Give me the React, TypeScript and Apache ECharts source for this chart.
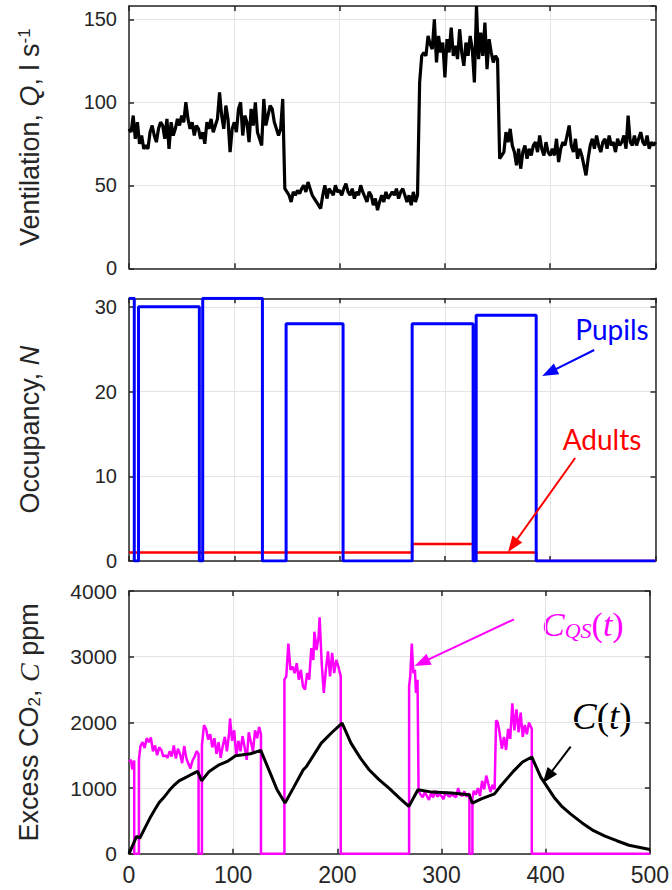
import React, { useEffect, useRef } from "react";
import * as echarts from "echarts";

// ---------- DATA ----------
const xTicks = [0, 100, 200, 300, 400, 500];

// Ventilation Q (l/s), sampled every 2 time units, four segments
const qSeg1Start = 0;
const qSeg1 = [84, 82, 92, 78, 88, 75, 80, 72, 74, 72,
  82, 86, 80, 76, 84, 88, 86, 78, 90, 72,
  88, 80, 84, 90, 86, 92, 88, 100, 90, 84,
  88, 80, 86, 84, 78, 82, 75, 88, 84, 90,
  82, 86, 90, 106, 92, 84, 98, 90, 70, 84,
  88, 82, 96, 100, 80, 92, 88, 76, 96, 86,
  100, 82, 78, 74, 102, 86, 92, 98, 96, 88,
  84, 80, 84, 102];
const qSeg2Start = 148;
const qSeg2 = [48, 46, 44, 40, 46, 44, 47, 45, 48, 50,
  46, 52, 48, 44, 42, 40, 38, 36, 44, 50,
  42, 48, 46, 44, 50, 46, 47, 44, 48, 51,
  46, 44, 48, 42, 46, 44, 50, 46, 43, 40,
  46, 44, 38, 42, 35, 40, 44, 40, 46, 42,
  44, 46, 44, 48, 42, 46, 48, 44, 40, 44,
  38, 46, 40, 44, 112];
const qSeg3Start = 278;
const qSeg3 = [128, 130, 128, 140, 135, 132, 150, 124, 140, 130,
  136, 115, 138, 130, 145, 128, 134, 126, 144, 130,
  122, 136, 128, 140, 132, 112, 158, 126, 142, 128,
  148, 120, 138, 130, 124, 128, 126];
const qSeg4Start = 352;
const qSeg4 = [66, 68, 70, 82, 76, 84, 74, 70, 62, 72,
  60, 70, 74, 66, 72, 68, 74, 76, 70, 80,
  72, 68, 76, 70, 68, 72, 68, 78, 64, 72,
  76, 74, 80, 86, 74, 70, 78, 66, 72, 68,
  62, 56, 66, 74, 78, 72, 80, 74, 70, 76,
  78, 72, 80, 74, 76, 70, 78, 74, 76, 80,
  72, 92, 76, 74, 80, 74, 78, 82, 76, 74,
  80, 72, 76, 74, 76];
const qStep = 2;

// Occupancy
const pupilsT = [0, 5, 5, 9, 9, 66.8, 66.8, 70, 70, 126.7, 126.7, 149.2, 149.2, 203.3, 203.3, 268.9, 268.9, 326.8, 326.8, 329.7, 329.7, 386.7, 386.7, 500];
const pupilsN = [31, 31, 0, 0, 30, 30, 0, 0, 31, 31, 0, 0, 28, 28, 0, 0, 28, 28, 0, 0, 29, 29, 0, 0];
const adultsT = [0, 268.9, 268.9, 326.8, 326.8, 386.7, 386.7, 500];
const adultsN = [1, 1, 2, 2, 1, 1, 0, 0];

// Steady-state CO2, C_QS(t)
const cqsSegA: [number, number][] = [[0, 1400], [2, 1430], [3, 1290], [4, 1310], [5, 1420], [5, 0], [9.5, 0]];
const cqsSegB: [number, number][] = [[9.5, 1430], [11, 1640], [13, 1700], [15, 1610], [17, 1760], [19, 1700], [21, 1770], [23, 1560], [25, 1650], [27, 1500], [29, 1620], [31, 1580], [33, 1480], [35, 1500], [37, 1460], [39, 1560], [41, 1480], [43, 1650], [45, 1450], [47, 1600], [49, 1520], [51, 1380], [53, 1640], [55, 1460], [57, 1370], [59, 1300], [61, 1420], [63, 1480], [65, 1560], [66.8, 1520], [66.8, 0], [70, 0]];
const cqsSegC: [number, number][] = [[70, 1650], [72, 1960], [74, 1900], [76, 1740], [78, 1820], [80, 1620], [82, 1760], [84, 1520], [86, 1700], [88, 1460], [90, 1640], [92, 1780], [94, 1560], [96, 1820], [97, 2060], [99, 1720], [101, 1880], [103, 1480], [105, 1720], [107, 1560], [109, 1790], [111, 1620], [113, 1430], [115, 1850], [117, 1700], [119, 1560], [121, 1880], [123, 1760], [125, 1930], [126.7, 1820], [126.7, 0], [149.2, 0]];
const cqsSegD: [number, number][] = [[149.2, 2650], [151, 2700], [153, 3200], [155, 2800], [157, 2850], [159, 2750], [161, 2900], [163, 2650], [165, 2800], [167, 2550], [169, 2500], [171, 2750], [173, 2650], [175, 3130], [177, 2950], [178, 3380], [180, 3100], [182, 3300], [183, 3600], [185, 2900], [187, 2450], [189, 2800], [191, 3080], [193, 2700], [195, 3060], [197, 2750], [199, 2950], [201, 2850], [203.3, 2700], [203.3, 0], [268.9, 0]];
const cqsSegE: [number, number][] = [[268.9, 2550], [270, 2700], [271.5, 3200], [273, 2750], [274.5, 2800], [275.5, 2450], [277, 2650], [278, 950], [280, 900], [282, 860], [284, 940], [286, 880], [288, 820], [290, 920], [292, 860], [294, 960], [296, 870], [298, 900], [300, 880], [302, 830], [304, 940], [306, 890], [308, 870], [310, 910], [312, 880], [314, 860], [316, 1000], [318, 900], [320, 880], [322, 950], [324, 870], [326.8, 920], [326.8, 0], [329.7, 0]];
const cqsSegF: [number, number][] = [[329.7, 850], [331, 960], [333, 900], [335, 1000], [337, 880], [339, 1110], [341, 980], [343, 1190], [345, 1060], [347, 940], [349, 1050], [351, 980], [352.4, 2030], [354, 2000], [356, 1820], [358, 1600], [360, 1780], [362, 1580], [364, 1900], [366, 1750], [368, 2290], [370, 1880], [372, 2200], [374, 1850], [376, 2150], [378, 1780], [380, 1960], [382, 1820], [384, 2000], [386.7, 1900], [386.7, 0], [500, 0]];

// Actual CO2, C(t)
const cTimes = [0, 7.3, 10.4, 15.2, 20, 24.7, 29, 34.2, 39, 43.7, 48, 53.2, 59, 65.9, 69.7, 77, 86.5, 94.4, 102.3, 116.6, 126.5, 135.6, 142, 149.8, 157.7, 167.3, 170.4, 184.6, 195, 204.6, 213.1, 222, 230.5, 240, 249.6, 259, 268.6, 277.4, 290.7, 309.7, 326.5, 329.7, 338.2, 350.9, 357.2, 369.9, 377.8, 386.7, 395.3, 408, 415, 423.8, 435, 446, 457, 468.2, 480, 500];
const cValues = [0, 264, 240, 390, 540, 670, 780, 873, 970, 1050, 1110, 1152, 1200, 1254, 1112, 1254, 1355, 1406, 1492, 1523, 1574, 1228, 980, 772, 1000, 1279, 1330, 1685, 1850, 1990, 1685, 1460, 1279, 1130, 1000, 860, 721, 975, 939, 924, 898, 770, 837, 913, 1040, 1270, 1398, 1474, 1168, 862, 730, 607, 470, 352, 270, 199, 130, 65];

// Annotation arrows (data coordinates: [from], [to])
const pupilsArrow = [[441.8, 24.9], [399.2, 22.25]];
const adultsArrow = [[423.7, 12.15], [364.4, 1.83]];
const cqsArrow = [[369.6, 3569], [281.1, 2910]];
const cArrow = [[424, 1630], [401.8, 1169]];

// ---------- STYLE ----------
const FONT = "'Liberation Sans', Arial, Helvetica, sans-serif";
const AX = "#262626";
const GRIDC = "#e4e4e4";

function seg(start: number, vals: number[]) {
  return vals.map((v, i) => [start + i * qStep, v]);
}

export default function App() {
  const ref = useRef<HTMLDivElement>(null);
  useEffect(() => {
    if (!ref.current) return;
    const chart = echarts.init(ref.current, null, { renderer: "svg" });

    const grids = [
      { left: 129, top: 6, width: 526.5, height: 262.3 },
      { left: 129, top: 298.3, width: 526.5, height: 262.7 },
      { left: 129, top: 591, width: 526.5, height: 262.8 },
    ];
    const yCfg = [
      { min: 0, max: 158, interval: 50, size: 20, showMax: false },
      { min: 0, max: 31, interval: 10, size: 20, showMax: false },
      { min: 0, max: 4000, interval: 1000, size: 21, showMax: true },
    ];
    const names = [
      "{n|Ventilation, }{i|Q}{n|, l s}{sup|-1}",
      "{n|Occupancy, }{i|N}",
      "{n|Excess CO}{sub|2}{n|, }{ci|C}{n| ppm}",
    ];
    const nameRich = {
      n: { fontSize: 27, fontFamily: FONT, color: AX },
      i: { fontSize: 27, fontFamily: FONT, fontStyle: "italic", color: AX },
      ci: { fontSize: 28, fontFamily: "'Liberation Serif', serif", fontStyle: "italic", color: AX },
      sup: { fontSize: 17, fontFamily: FONT, color: AX, verticalAlign: "top" },
      sub: { fontSize: 17, fontFamily: FONT, color: AX, verticalAlign: "bottom" },
    };
    const lineAx = { show: true, onZero: false, lineStyle: { color: AX, width: 1.5 } };
    const tickAx = { show: true, inside: true, length: 5, lineStyle: { color: AX, width: 1.5 } };
    const plain = (v: number) => String(v);

    const xAxis: any[] = [];
    const yAxis: any[] = [];
    grids.forEach((_, g) => {
      xAxis.push({
        type: "value", gridIndex: g, position: "bottom", min: xTicks[0], max: xTicks[xTicks.length - 1], interval: 100,
        axisLine: lineAx, axisTick: tickAx,
        axisLabel: { show: g === 2, fontSize: 23, color: AX, fontFamily: FONT, margin: 10, formatter: plain },
        splitLine: { show: true, lineStyle: { color: GRIDC, width: 1 } },
      });
      xAxis.push({
        type: "value", gridIndex: g, position: "top", min: 0, max: 500, interval: 100,
        axisLine: lineAx, axisTick: tickAx, axisLabel: { show: false }, splitLine: { show: false },
      });
      const c = yCfg[g];
      yAxis.push({
        type: "value", gridIndex: g, position: "left", min: c.min, max: c.max, interval: c.interval,
        axisLine: lineAx, axisTick: tickAx,
        axisLabel: { fontSize: c.size, color: AX, fontFamily: FONT, margin: 12, showMaxLabel: c.showMax, formatter: plain },
        splitLine: { show: true, lineStyle: { color: GRIDC, width: 1 } },
        name: names[g], nameLocation: "middle", nameRotate: 90, nameGap: 86,
        nameTextStyle: { fontSize: 27, fontFamily: FONT, color: AX, rich: nameRich },
      });
      yAxis.push({
        type: "value", gridIndex: g, position: "right", min: c.min, max: c.max, interval: c.interval,
        axisLine: lineAx, axisTick: tickAx, axisLabel: { show: false }, splitLine: { show: false },
      });
    });

    const arrow = (pts: number[][], color: string) => ({
      silent: true,
      symbol: ["none", "triangle"],
      symbolSize: [12, 16],
      label: { show: false },
      lineStyle: { color, width: 2, type: "solid" },
      emphasis: { disabled: true },
      data: [[{ coord: pts[0] }, { coord: pts[1] }]],
    });

    const qData = [
      ...seg(qSeg1Start, qSeg1), ...seg(qSeg2Start, qSeg2),
      ...seg(qSeg3Start, qSeg3), ...seg(qSeg4Start, qSeg4),
    ];
    const pupils = pupilsT.map((t, i) => [t, pupilsN[i]]);
    const adults = adultsT.map((t, i) => [t, adultsN[i]]);
    const cqs = [...cqsSegA, ...cqsSegB, ...cqsSegC, ...cqsSegD, ...cqsSegE, ...cqsSegF];
    const cData = cTimes.map((t, i) => [t, cValues[i]]);

    chart.setOption({
      animation: false,
      backgroundColor: "#ffffff",
      grid: grids,
      xAxis,
      yAxis,
      series: [
        { type: "line", xAxisIndex: 0, yAxisIndex: 0, data: qData, showSymbol: false, lineStyle: { color: "#000", width: 3.2 }, z: 3 },
        { type: "line", xAxisIndex: 2, yAxisIndex: 2, data: adults, showSymbol: false, lineStyle: { color: "#ff0000", width: 2.5 }, z: 3, markLine: arrow(adultsArrow, "#ff0000") },
        { type: "line", xAxisIndex: 2, yAxisIndex: 2, data: pupils, showSymbol: false, lineStyle: { color: "#0000ff", width: 3 }, z: 4, markLine: arrow(pupilsArrow, "#0000ff") },
        { type: "line", xAxisIndex: 4, yAxisIndex: 4, data: cqs, showSymbol: false, lineStyle: { color: "#ff00ff", width: 2.5 }, z: 3, markLine: arrow(cqsArrow, "#ff00ff") },
        { type: "line", xAxisIndex: 4, yAxisIndex: 4, data: cData, showSymbol: false, lineStyle: { color: "#000", width: 3 }, z: 4, markLine: arrow(cArrow, "#000") },
      ],
      graphic: [
        { type: "text", x: 612, y: 329, style: { text: "Pupils", fill: "#0000ff", font: "28px Lato, 'Open Sans', sans-serif", textAlign: "center", textVerticalAlign: "middle" } },
        { type: "text", x: 602, y: 439, style: { text: "Adults", fill: "#ff0000", font: "28px Lato, 'Open Sans', sans-serif", textAlign: "center", textVerticalAlign: "middle" } },
        {
          type: "text", x: 542, y: 624,
          style: {
            text: "{c|C}{s|QS}{p|(}{c|t}{p|)}", textVerticalAlign: "middle", fill: "#ff00ff",
            rich: {
              c: { fontSize: 34, fontFamily: "'Liberation Serif', serif", fontStyle: "italic", fill: "#ff00ff" },
              s: { fontSize: 22, fontFamily: "'Liberation Serif', serif", fontStyle: "italic", fill: "#ff00ff", verticalAlign: "bottom" },
              p: { fontSize: 34, fontFamily: "'Liberation Serif', serif", fill: "#ff00ff" },
            },
          },
        },
        {
          type: "text", x: 572, y: 716,
          style: {
            text: "{c|C}{p|(}{c|t}{p|)}", textVerticalAlign: "middle", fill: "#000",
            rich: {
              c: { fontSize: 37, fontFamily: "'Liberation Serif', serif", fontStyle: "italic", fill: "#000" },
              p: { fontSize: 37, fontFamily: "'Liberation Serif', serif", fill: "#000" },
            },
          },
        },
      ],
    });
    return () => chart.dispose();
  }, []);
  return <div ref={ref} style={{ position: "absolute", left: 0, top: 0, width: 672, height: 890 }} />;
}
